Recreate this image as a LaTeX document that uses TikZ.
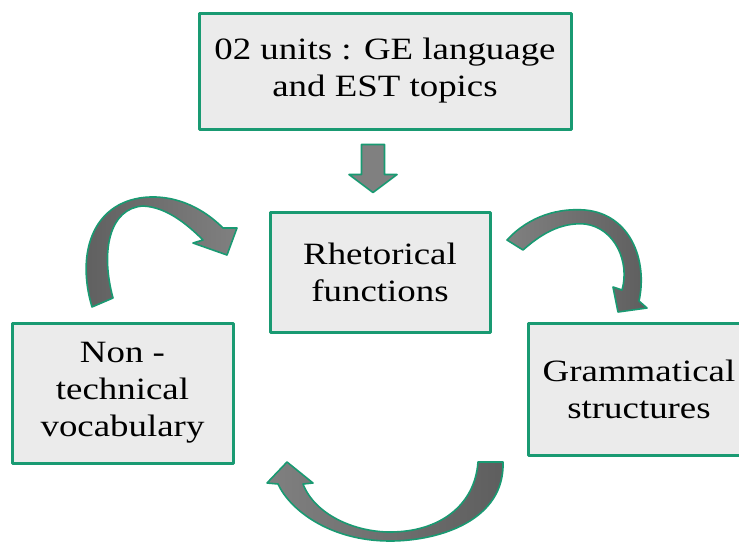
\documentclass[tikz,border=0pt]{standalone}
\usepackage{fontspec}
\setmainfont{Liberation Serif}[FakeStretch=1.19]
\usetikzlibrary{calc}
\definecolor{boxgreen}{HTML}{199A72}
\definecolor{boxgray}{HTML}{EBEBEB}
\definecolor{arrowgray}{HTML}{808080}
\definecolor{arrowdark}{HTML}{5E5E5E}
\tikzset{
  every picture/.style={line join=round},
  topic/.style={draw=boxgreen, fill=boxgray, line width=3pt, align=center, inner sep=0pt, font=\fontsize{31}{37}\selectfont},
  blockarrow/.style={draw=boxgreen, line width=1.6pt, fill=arrowgray},
}

\begin{document}
\begin{tikzpicture}[x=1pt,y=-1pt]
\useasboundingbox (0,0) rectangle (739,542);
\node[topic, minimum width=372pt, minimum height=116pt] (units) at (385,71) {02 units : GE language\\and EST topics};
\node[topic, minimum width=220pt, minimum height=120pt] (rhet) at (380,272) {Rhetorical\\functions};
\node[topic, minimum width=221pt, minimum height=140pt] (nontech) at (122.5,393) {Non -\\technical\\vocabulary};
\node[topic, minimum width=222pt, minimum height=132pt] (gram) at (639,389) {Grammatical\\structures};

\coordinate (dtop) at ($(units.south)+(-12,14)$);
\coordinate (dtip) at ($(dtop |- rhet.north)+(0,-18)$);
\filldraw[blockarrow]($(dtop)+(-11.5,0)$)--($(dtop)+(11.5,0)$)--($(dtop)+(11.5,30)$)--($(dtop)+(24,30)$)--(dtip)--($(dtop)+(-24,30)$)--($(dtop)+(-11.5,30)$)--cycle;

\shadedraw[blockarrow, left color=arrowdark, right color=arrowgray]
  (92,307) .. controls (75,250) and (95,199) .. (150,197) .. controls (185,196) and (210,215) .. (223,228)
  --(237,228)--(227,255)--(193,243)--(203,240)
  .. controls (185,222) and (165,207) .. (143,206) .. controls (110,208) and (100,250) .. (113,298)--cycle;
\shadedraw[blockarrow, left color=arrowgray, right color=arrowdark]
  (507,240) .. controls (530,215) and (560,208) .. (585,210) .. controls (630,214) and (648,260) .. (639,301)
  --(647,308)--(618,312)--(613,287)--(622,290)
  .. controls (630,262) and (615,228) .. (585,224) .. controls (560,222) and (540,235) .. (523,250)--cycle;
\shadedraw[blockarrow, left color=arrowgray, right color=arrowdark]
  (503,462) .. controls (505,520) and (440,541) .. (390,541) .. controls (330,541) and (290,510) .. (278,484)
  --(267,483)--(287,462)--(313,483)--(303,484)
  .. controls (315,515) and (355,532) .. (390,532) .. controls (440,532) and (475,505) .. (478,462)--cycle;
\end{tikzpicture}
\end{document}
